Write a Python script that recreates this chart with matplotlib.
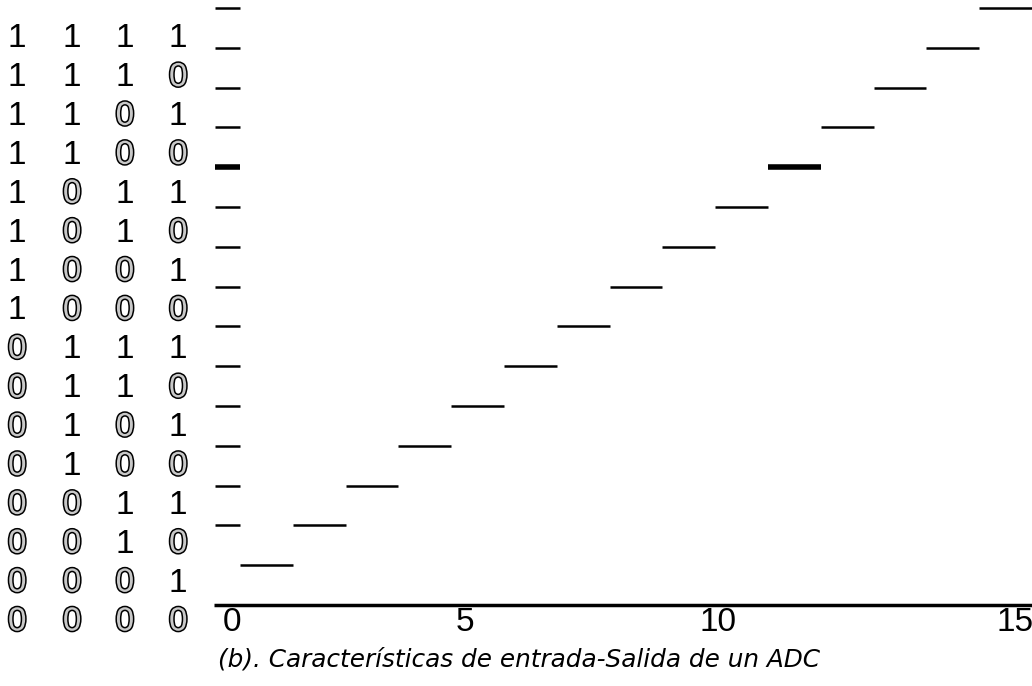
import matplotlib
matplotlib.use("Agg")
import matplotlib.pyplot as plt
import matplotlib.patheffects as pe

# output codes, one per quantisation level (0000 at the bottom)
levels = list(range(16))
codes = [format(k, "04b") for k in levels]
x_tick_labels = ["0", "5", "10", "15"]
caption = "(b). Características de entrada-Salida de un ADC"

# layout helpers (pixel-matched positions)
x_tick_pos = [0.35, 4.76, 9.55, 15.18]
code_cols = [-3.72, -2.68, -1.68, -0.67]
thick_level = 11

fig = plt.figure(figsize=(10.32, 6.86), dpi=100)
ax = fig.add_axes([0, 0, 1, 1])
ax.set_xlim(-213.6 / 52.8, (1032 - 213.6) / 52.8)
ax.set_ylim((605 - 686) / 39.8, 605 / 39.8)
ax.axis("off")

digit_font = dict(fontsize=24, family=["Liberation Sans", "DejaVu Sans"],
                  ha="center", va="center")
zero_fx = [pe.withStroke(linewidth=2.2, foreground="black")]


def put_digits(x, y, s):
    # zeros are drawn as grey glyphs with a black outline, ones solid black
    if s == "0":
        ax.text(x, y, s, color="#c8c8c8", path_effects=zero_fx, **digit_font)
    else:
        ax.text(x, y, s, color="black", **digit_font)


# x axis
ax.plot([0, 15.5], [0, 0], color="black", lw=2.5, solid_capstyle="butt")

# staircase + y ticks
for k in levels[1:]:
    lw = 4 if k == thick_level else 1.8
    ax.plot([k - 0.5, k + 0.5], [k, k], color="black", lw=lw, solid_capstyle="butt")
    if k >= 2:
        ax.plot([0.03, 0.5], [k, k], color="black", lw=lw, solid_capstyle="butt")

# binary codes on the left
for k, code in zip(levels, codes):
    y = -0.427 + 0.977 * k
    for x, ch in zip(code_cols, code):
        put_digits(x, y, ch)

# x tick labels
for x, lab in zip(x_tick_pos, x_tick_labels):
    ax.text(x, -0.43, lab, color="black", **digit_font)

ax.text(0.08, -1.38, caption, fontsize=17.8, style="italic",
        family=["DejaVu Sans"], ha="left", va="center")

fig.savefig("out.png", dpi=100)
